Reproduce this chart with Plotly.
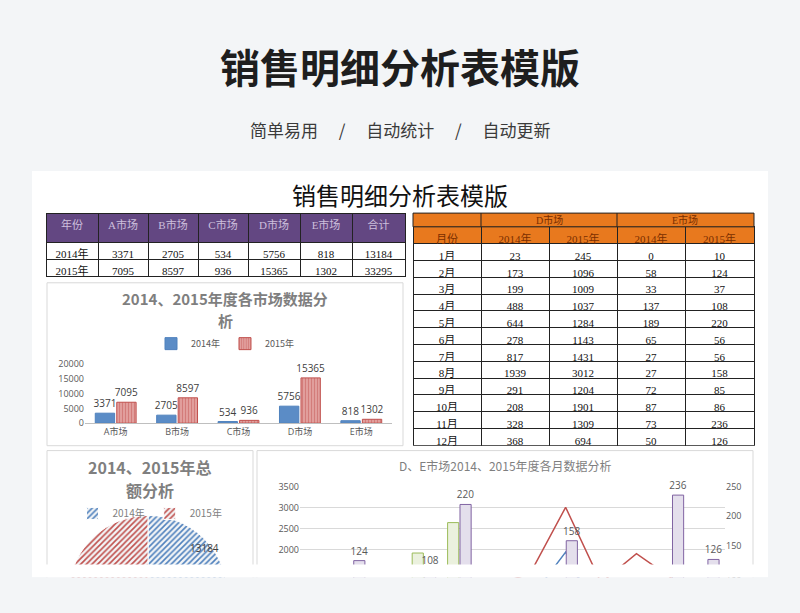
import plotly.graph_objects as go

W, H = 800, 700
def px(x): return x / W
def py(y): return 1 - y / H

# ---- data ----
years = ["2014年", "2015年"]
markets = ["A市场", "B市场", "C市场", "D市场", "E市场"]
m2014 = [3371, 2705, 534, 5756, 818]
m2015 = [7095, 8597, 936, 15365, 1302]
tot2014, tot2015 = 13184, 33295
months = ["1月", "2月", "3月", "4月", "5月", "6月", "7月", "8月", "9月", "10月", "11月", "12月"]
d2014 = [23, 173, 199, 488, 644, 278, 817, 1939, 291, 208, 328, 368]
d2015 = [245, 1096, 1009, 1037, 1284, 1143, 1431, 3012, 1204, 1901, 1309, 694]
e2014 = [0, 58, 33, 137, 189, 65, 27, 27, 72, 87, 73, 50]
e2015 = [10, 124, 37, 108, 220, 56, 56, 158, 85, 86, 236, 126]

CJK = "Noto Sans CJK SC"
SERIF = "Liberation Serif, Noto Sans CJK SC"
NUM = "Open Sans, Noto Sans CJK SC"

fig = go.Figure()

# ---- left table ----
hdr = ["年份"] + markets + ["合计"]
cols = [years] + [[a, b] for a, b in zip(m2014, m2015)] + [[tot2014, tot2015]]
fig.add_trace(go.Table(
    domain=dict(x=[px(46), px(405)], y=[py(277), py(210)]),
    columnwidth=[52, 50, 50, 50, 52, 52, 53],
    header=dict(values=hdr, fill_color="#634782", line_color="#222",
                font=dict(family=SERIF, size=11, color="#cdbfdc"), height=29, align="center"),
    cells=dict(values=cols, fill_color="white", line_color="#222",
               font=dict(family=SERIF, size=11, color="#111"), height=17, align="center")))

# ---- right table ----
fig.add_trace(go.Table(
    domain=dict(x=[px(413), px(754)], y=[py(448), py(224)]),
    columnwidth=[68, 68, 68, 68, 69],
    header=dict(values=["月份", "2014年", "2015年", "2014年", "2015年"], fill_color="#e8791e",
                line_color="#222", font=dict(family=SERIF, size=11, color="#7a2e00"), height=16.8),
    cells=dict(values=[months, d2014, d2015, e2014, e2015], fill_color="white", line_color="#222",
               font=dict(family=SERIF, size=11, color="#111"), height=16.8, align="center")))

# ---- market bar chart ----
fig.add_trace(go.Bar(x=markets, y=m2014, name="2014年", marker=dict(color="#5b8cc6", line=dict(color="#4f81bd", width=1)),
                     text=m2014, textposition="outside", constraintext="none",
                     textfont=dict(size=10, color="#404040", family=NUM),
                     xaxis="x", yaxis="y", cliponaxis=False, legend="legend"))
fig.add_trace(go.Bar(x=markets, y=m2015, name="2015年",
                     marker=dict(color="#e6a9a7", line=dict(color="#c0504d", width=1),
                                 pattern=dict(shape="|", fgcolor="#c0504d", bgcolor="#e6a9a7", size=3, solidity=0.5)),
                     text=m2015, textposition="outside", constraintext="none",
                     textfont=dict(size=10, color="#404040", family=NUM),
                     xaxis="x", yaxis="y", cliponaxis=False, legend="legend"))

# ---- pie ----
fig.add_trace(go.Pie(labels=years, values=[tot2014, tot2015], sort=False, direction="clockwise", rotation=0,
                     domain=dict(x=[px(67), px(229)], y=[py(680), py(518)]),
                     marker=dict(colors=["#b8cce4", "#e6b9b8"], line=dict(color="white", width=1),
                                 pattern=dict(shape=["/", "/"], fgcolor=["#4f81bd", "#c0504d"], size=4, solidity=0.4)),
                     textinfo="none", legend="legend2"))

# ---- combo chart ----
fig.add_trace(go.Bar(x=months, y=e2014, name="E 2014年", xaxis="x2", yaxis="y3", showlegend=False,
                     marker=dict(color="#ebf1de", line=dict(color="#9bbb59", width=1))))
fig.add_trace(go.Bar(x=months, y=e2015, name="E 2015年", xaxis="x2", yaxis="y3", showlegend=False,
                     marker=dict(color="#e4dfec", line=dict(color="#8064a2", width=1)),
                     text=e2015, textposition="outside", cliponaxis=False, constraintext="none",
                     textfont=dict(size=10, color="#595959", family=NUM)))
fig.add_trace(go.Scatter(x=months, y=d2014, mode="lines", name="D 2014年", xaxis="x2", yaxis="y2",
                         showlegend=False, line=dict(color="#4f81bd", width=1.5)))
fig.add_trace(go.Scatter(x=months, y=d2015, mode="lines", name="D 2015年", xaxis="x2", yaxis="y2",
                         showlegend=False, line=dict(color="#c0504d", width=1.5)))

shapes = [
    dict(type="rect", xref="paper", yref="paper", x0=px(32), x1=px(768), y0=py(581), y1=py(167),
         fillcolor="white", line=dict(width=0), layer="below"),
    dict(type="rect", xref="paper", yref="paper", x0=px(47), x1=px(403), y0=py(447), y1=py(281),
         fillcolor="white", line=dict(color="#d9d9d9", width=1), layer="below"),
    dict(type="rect", xref="paper", yref="paper", x0=px(47), x1=px(253), y0=py(600), y1=py(452),
         fillcolor="white", line=dict(color="#d9d9d9", width=1), layer="below"),
    dict(type="rect", xref="paper", yref="paper", x0=px(257), x1=px(753), y0=py(600), y1=py(452),
         fillcolor="white", line=dict(color="#d9d9d9", width=1), layer="below"),
    dict(type="rect", xref="paper", yref="paper", x0=px(413), x1=px(754), y0=py(224), y1=py(210),
         fillcolor="#e8791e", line=dict(color="#222", width=1), layer="above"),
    dict(type="line", xref="paper", yref="paper", x0=px(481), x1=px(481), y0=py(224), y1=py(210),
         line=dict(color="#222", width=1), layer="above"),
    dict(type="line", xref="paper", yref="paper", x0=px(617), x1=px(617), y0=py(224), y1=py(210),
         line=dict(color="#222", width=1), layer="above"),
    dict(type="rect", xref="paper", yref="paper", x0=px(32), x1=px(768), y0=py(581), y1=py(568),
         fillcolor="white", line=dict(width=0), layer="above"),
    dict(type="rect", xref="paper", yref="paper", x0=0, x1=1, y0=0, y1=py(581),
         fillcolor="#f3f5f7", line=dict(width=0), layer="above"),
]

ann = [
    dict(text="<b>销售明细分析表模版</b>", x=0.5, y=py(60), font=dict(size=40, color="#1e1e1e", family=CJK)),
    dict(text="简单易用　 /　 自动统计　 /　 自动更新", x=0.5, y=py(125), font=dict(size=17, color="#3a3a3a", family=CJK)),
    dict(text="销售明细分析表模版", x=0.5, y=py(191), font=dict(size=24, color="#111", family=CJK)),
    dict(text="D市场", x=px(549), y=py(217), font=dict(size=10, color="#7a2e00", family=SERIF)),
    dict(text="E市场", x=px(685), y=py(217), font=dict(size=10, color="#7a2e00", family=SERIF)),
    dict(text="<b>2014、2015年度各市场数据分</b>", x=px(225), y=py(297),
         font=dict(size=15, color="#7f7f7f", family=CJK)),
    dict(text="<b>析</b>", x=px(225), y=py(319), font=dict(size=15, color="#7f7f7f", family=CJK)),
    dict(text="<b>2014、2015年总</b>", x=px(150), y=py(469), font=dict(size=16, color="#7f7f7f", family=CJK)),
    dict(text="<b>额分析</b>", x=px(150), y=py(492), font=dict(size=16, color="#7f7f7f", family=CJK)),
    dict(text="D、E市场2014、2015年度各月数据分析", x=px(505), y=py(467),
         font=dict(size=12, color="#7f7f7f", family=CJK)),
    dict(text=str(tot2014), x=px(205), y=py(551), font=dict(size=10, color="#404040", family=NUM)),
]
for a in ann:
    a.update(xref="paper", yref="paper", showarrow=False, xanchor="center", yanchor="middle")

tickf = dict(size=9, color="#595959", family=NUM)
fig.update_layout(
    width=W, height=H, margin=dict(l=0, r=0, t=0, b=0),
    paper_bgcolor="#f3f5f7", plot_bgcolor="rgba(0,0,0,0)",
    shapes=shapes, annotations=ann, barmode="group",
    xaxis=dict(domain=[px(85), px(392)], showline=True, linecolor="#bfbfbf", tickfont=tickf, ticks=""),
    yaxis=dict(domain=[py(424), py(364)], range=[0, 20000], dtick=5000, tickformat="d", showgrid=False,
               tickfont=tickf, zeroline=False),
    xaxis2=dict(domain=[px(300), px(725)], showticklabels=False, anchor="y2"),
    yaxis2=dict(domain=[py(638), py(489)], range=[0, 3500], dtick=500, tickformat="d", gridcolor="#d9d9d9",
                tickfont=tickf, anchor="x2", zeroline=False),
    yaxis3=dict(overlaying="y2", side="right", range=[0, 250], dtick=50, showgrid=False, tickfont=tickf,
                anchor="x2", zeroline=False),
    legend=dict(orientation="h", x=px(225), y=py(343), xanchor="center", yanchor="middle",
                font=dict(size=9, color="#595959", family=CJK), bgcolor="rgba(0,0,0,0)"),
    legend2=dict(orientation="h", x=px(150), y=py(516), xanchor="center", yanchor="middle",
                 font=dict(size=10, color="#7f7f7f", family=CJK), bgcolor="rgba(0,0,0,0)"),
    bargap=0.3, bargroupgap=0.1,
)

fig.write_html("out.html", config={"displayModeBar": False},
               post_script="document.documentElement.style.overflow='hidden';"
               "document.body.style.overflow='hidden';document.body.style.margin='0';")
